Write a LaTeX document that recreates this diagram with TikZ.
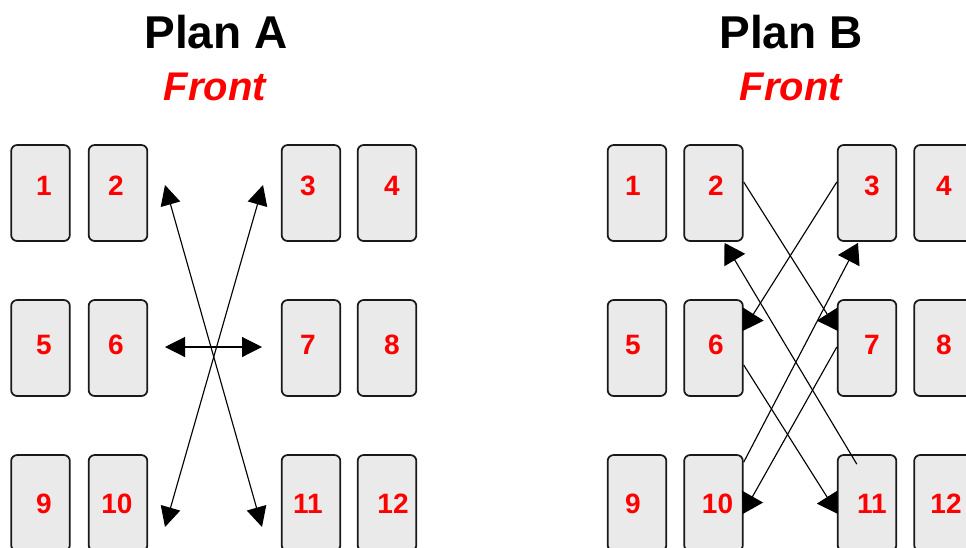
\documentclass[tikz,border=0pt]{standalone}
\usepackage{fontspec}
\setmainfont{Liberation Sans}
\usetikzlibrary{arrows.meta,calc}
\definecolor{cardfill}{RGB}{234,234,234}
\definecolor{numred}{RGB}{255,0,0}
\tikzset{
  card/.style={draw=black!90, fill=cardfill, line width=1.3pt, rounded corners=4.5pt,
    minimum width=44pt, minimum height=72pt, inner sep=0pt},
  num/.style={text=numred, font=\bfseries\fontsize{21}{24}\selectfont, inner sep=0pt, anchor=center},
  title/.style={font=\bfseries\fontsize{34.5}{40}\selectfont, inner sep=0pt, anchor=base},
  front/.style={text=numred, font=\bfseries\itshape\fontsize{30}{34}\selectfont, inner sep=0pt, anchor=base},
  arrA/.style={line width=0.85pt, {Triangle[length=15pt,width=15pt]}-{Triangle[length=15pt,width=15pt]}},
  arrB/.style={line width=0.85pt, -{Triangle[length=15pt,width=18pt]}}
}
\begin{document}
\begin{tikzpicture}[x=0.75pt,y=-0.75pt]
\clip (0,0) rectangle (966,547);
\fill[white] (0,0) rectangle (966,547);

% titles
\node[title] (tA) at (216,48) {Plan A};
\node[front] (fA) at (215,100) {Front};
\node[title] (tB) at (791,48) {Plan B};
\node[front] (fB) at (791,100) {Front};

% Plan A cards
\node[card] (A1) at (40.5,193) {};
\node[card] (A2) at (118,193) {};
\node[card] (A3) at (311,193) {};
\node[card] (A4) at (387,193) {};
\node[card] (A5) at (40.5,348) {};
\node[card] (A6) at (118,348) {};
\node[card] (A7) at (311,348) {};
\node[card] (A8) at (387,348) {};
\node[card] (A9) at (40.5,503) {};
\node[card] (A10) at (118,503) {};
\node[card] (A11) at (311,503) {};
\node[card] (A12) at (387,503) {};

\node[num] (nA1) at (44,186) {1};
\node[num] (nA2) at (116,186) {2};
\node[num] (nA3) at (308,186) {3};
\node[num] (nA4) at (392,186) {4};
\node[num] (nA5) at (44,345) {5};
\node[num] (nA6) at (116,345) {6};
\node[num] (nA7) at (308,345) {7};
\node[num] (nA8) at (392,345) {8};
\node[num] (nA9) at (44,504) {9};
\node[num] (nA10) at (117,504) {10};
\node[num] (nA11) at (308,504) {11};
\node[num] (nA12) at (393,504) {12};

% Plan B cards
\node[card] (B1) at (637,193) {};
\node[card] (B2) at (713.5,193) {};
\node[card] (B3) at (867,193) {};
\node[card] (B4) at (943.5,193) {};
\node[card] (B5) at (637,348) {};
\node[card] (B6) at (713.5,348) {};
\node[card] (B7) at (867,348) {};
\node[card] (B8) at (943.5,348) {};
\node[card] (B9) at (637,503) {};
\node[card] (B10) at (713.5,503) {};
\node[card] (B11) at (867,503) {};
\node[card] (B12) at (943.5,503) {};

\node[num] (nB1) at (633,186) {1};
\node[num] (nB2) at (716,186) {2};
\node[num] (nB3) at (872,186) {3};
\node[num] (nB4) at (944,186) {4};
\node[num] (nB5) at (633,345) {5};
\node[num] (nB6) at (716,345) {6};
\node[num] (nB7) at (872,345) {7};
\node[num] (nB8) at (944,345) {8};
\node[num] (nB9) at (633,504) {9};
\node[num] (nB10) at (717.5,504) {10};
\node[num] (nB11) at (872,504) {11};
\node[num] (nB12) at (946,504) {12};

% Plan A arrows (free ends)
\coordinate (a2) at (165,185);
\coordinate (a11) at (262,527);
\coordinate (a3) at (263,185);
\coordinate (a10) at (165,527);
\coordinate (a6) at (165,347);
\coordinate (a7) at (262,347);
\draw[arrA] (a2) -- (a11);
\draw[arrA] (a3) -- (a10);
\draw[arrA] (a6) -- (a7);

% Plan B arrows
\draw[arrB] ($(B2.east)+(0,-11)$) -- ($(B7.west)+(1,-17)$);
\draw[arrB] ($(B3.west)+(0,-11)$) -- ($(B6.east)+(-1,-17)$);
\draw[arrB] ($(B11.north west)+(20,10)$) -- ($(B2.south)+(11,1)$);
\draw[arrB] ($(B10.north east)+(0,8)$) -- ($(B3.south)+(-9,1)$);
\draw[arrB] ($(B6.east)+(0,17)$) -- ($(B11.west)+(1,11)$);
\draw[arrB] ($(B7.west)+(0,-1)$) -- ($(B10.east)+(-1,11)$);
\end{tikzpicture}
\end{document}
